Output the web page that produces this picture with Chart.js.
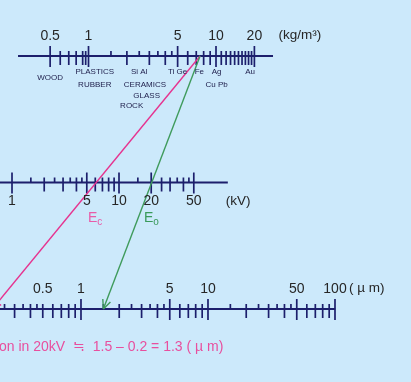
<!DOCTYPE html>
<html>
<head>
<meta charset="utf-8">
<script src="https://cdn.jsdelivr.net/npm/chart.js@4"></script>
<style>
  html, body { margin: 0; padding: 0; background: #cce9fb; }
  #chart { display: block; }
</style>
</head>
<body>
<canvas id="chart" width="411" height="382"></canvas>
<script>
// density scale (x1000 kg/m3)
const densityLabels = [0.5, 1, 5, 10, 20];
const densityMajor = [0.5, 1, 5, 10, 20];
const densityMid = [0.6, 0.7, 0.8, 0.9, 0.95, 2, 3, 4, 6, 7, 8, 9, 11, 12, 13, 14, 15, 16, 17, 18, 19];
const densityMinor = [1.5, 2.5, 3.5, 4.5];
const densityRange = [0.28, 28];

const materialNames = ['WOOD', 'PLASTICS', 'RUBBER', 'Si Al', 'CERAMICS', 'GLASS', 'ROCK', 'Ti Ge', 'Fe', 'Ag', 'Cu Pb', 'Au'];
const materialDensity = [0.5, 1.12, 1.12, 2.5, 2.77, 2.86, 2.18, 5.0, 7.4, 10.1, 10.1, 18.5];

// accelerating voltage scale (kV)
const kvLabels = [1, 5, 10, 20, 50];
const kvMajor = [1, 5, 10, 20, 50];
const kvMid = [2, 3, 4, 6, 7, 8, 9, 25, 30, 40];
const kvMinor = [1.5, 2.5, 3.5, 4.5, 15, 35, 45];
const kvRange = [0.5, 104];

// depth scale (um)
const umLabels = [0.5, 1, 5, 10, 50, 100];
const umMajor = [1, 5, 10, 50, 100];
const umMid = [0.3, 0.4, 0.5, 0.6, 0.7, 0.8, 0.9, 2, 3, 4, 6, 7, 8, 9, 20, 30, 40, 60, 70, 80, 90];
const umMinor = [0.25, 0.35, 0.45, 1.5, 2.5, 3.5, 4.5, 15, 25, 35, 45];
const umRange = [0.15, 100.5];

// read-off lines: density -> kV -> depth
const pathDensity = [7.5, 7.5];
const pathKv = [6, 20];
const pathDepth = [0.2, 1.5];
const pathNames = ['c', 'o'];

const NAVY = '#1c1f6c';
const LINE_COLORS = ['#e6338f', '#3f9b5c'];
const LABEL_COLORS = ['#e85ca8', '#3a9a5a'];
const FONT = '"Liberation Sans", Arial, sans-serif';

function axisLine(id, range, row) {
    return {
        data: range.map(v => ({ x: v, y: row })),
        xAxisID: id,
        showLine: true,
        borderColor: NAVY,
        borderWidth: 2,
        pointRadius: 0
    };
}

// tick marks drawn as 'dash' points, rotated up (270) or down (90)
function ticks(id, values, row, rotation, length) {
    return {
        data: values.map(v => ({ x: v, y: row })),
        xAxisID: id,
        showLine: false,
        pointStyle: 'dash',
        pointRotation: rotation,
        pointRadius: length,
        pointBorderColor: NAVY,
        pointBackgroundColor: NAVY,
        pointBorderWidth: 1.7
    };
}

function axisSets(id, range, row, major, mid, minor) {
    return [
        axisLine(id, range, row),
        ticks(id, major, row, 270, 10),
        ticks(id, major, row, 90, 11),
        ticks(id, mid, row, 270, 5),
        ticks(id, mid, row, 90, 9),
        ticks(id, minor, row, 270, 5)
    ];
}

const nomoText = {
    id: 'nomoText',
    afterDatasetsDraw(chart) {
        const { ctx, scales } = chart;
        const rowY = r => scales.y.getPixelForValue(r);
        ctx.save();

        // read-off lines with arrow heads
        pathDensity.forEach((d, i) => {
            const x0 = scales.xRho.getPixelForValue(d), y0 = rowY(0);
            const x1 = scales.xUm.getPixelForValue(pathDepth[i]), y1 = rowY(2);
            ctx.strokeStyle = LINE_COLORS[i];
            ctx.lineWidth = 1.4;
            ctx.beginPath();
            ctx.moveTo(x0, y0);
            ctx.lineTo(x1, y1);
            ctx.stroke();
            const a = Math.atan2(y0 - y1, x0 - x1);
            ctx.beginPath();
            [-0.42, 0.42].forEach(da => {
                ctx.moveTo(x1, y1);
                ctx.lineTo(x1 + 10 * Math.cos(a + da), y1 + 10 * Math.sin(a + da));
            });
            ctx.stroke();
        });

        ctx.textBaseline = 'middle';
        ctx.textAlign = 'center';
        ctx.fillStyle = '#262626';

        // scale numbers
        ctx.font = '14px ' + FONT;
        densityLabels.forEach(v => ctx.fillText(String(v), scales.xRho.getPixelForValue(v), rowY(0) - 20));
        kvLabels.forEach(v => ctx.fillText(String(v), scales.xKv.getPixelForValue(v), rowY(1) + 19));
        umLabels.forEach(v => ctx.fillText(String(v), scales.xUm.getPixelForValue(v), rowY(2) - 20));

        // units
        ctx.textAlign = 'left';
        ctx.font = '13.5px ' + FONT;
        ctx.fillText('(kg/m\u00B3)', scales.xRho.getPixelForValue(20) + 24, rowY(0) - 21);
        ctx.fillText('(kV)', scales.xKv.getPixelForValue(50) + 32, rowY(1) + 19);
        ctx.fillText('( \u00B5 m)', scales.xUm.getPixelForValue(100) + 14, rowY(2) - 21);

        // materials under the density scale
        const lineOffset = [22, 16, 29, 16, 29, 40, 50, 16, 16, 16, 29, 16];
        ctx.textAlign = 'center';
        ctx.fillStyle = '#1d1d4a';
        ctx.font = '8px ' + FONT;
        materialNames.forEach((n, i) => {
            ctx.fillText(n, scales.xRho.getPixelForValue(materialDensity[i]), rowY(0) + lineOffset[i]);
        });

        // E_c / E_o labels at the kV crossings
        pathKv.forEach((kv, i) => {
            const x = scales.xKv.getPixelForValue(kv) + 2;
            const y = rowY(1) + 36;
            ctx.fillStyle = LABEL_COLORS[i];
            ctx.textAlign = 'right';
            ctx.font = '14px ' + FONT;
            ctx.fillText('E', x, y);
            ctx.textAlign = 'left';
            ctx.font = '10px ' + FONT;
            ctx.fillText(pathNames[i], x, y + 4);
        });

        // depth in 20 kV
        const depth = (pathDepth[1] - pathDepth[0]).toFixed(1);
        ctx.fillStyle = '#e84f9e';
        ctx.textAlign = 'left';
        ctx.font = '14px ' + FONT;
        ctx.fillText('on in ' + pathKv[1] + 'kV  \u2252  ' + pathDepth[1] + ' \u2013 ' + pathDepth[0] + ' = ' + depth + ' ( \u00B5 m)', -1, rowY(2) + 38);

        ctx.restore();
    }
};

new Chart(document.getElementById('chart'), {
    type: 'scatter',
    data: {
        datasets: [
            ...axisSets('xRho', densityRange, 0, densityMajor, densityMid, densityMinor),
            ...axisSets('xKv', kvRange, 1, kvMajor, kvMid, kvMinor),
            ...axisSets('xUm', umRange, 2, umMajor, umMid, umMinor)
        ]
    },
    options: {
        responsive: false,
        animation: false,
        events: [],
        layout: { padding: 0, autoPadding: false },
        plugins: {
            legend: { display: false },
            tooltip: { enabled: false }
        },
        scales: {
            xRho: { type: 'logarithmic', position: 'top', display: false, min: 0.2022, max: 338.4 },
            xKv: { type: 'logarithmic', position: 'bottom', display: false, min: 0.7723, max: 5358 },
            xUm: { type: 'logarithmic', position: 'bottom', display: false, min: 0.2303, max: 396.7 },
            y: { type: 'linear', reverse: true, display: false, min: -0.4427, max: 2.577 }
        }
    },
    plugins: [nomoText]
});
</script>
</body>
</html>
